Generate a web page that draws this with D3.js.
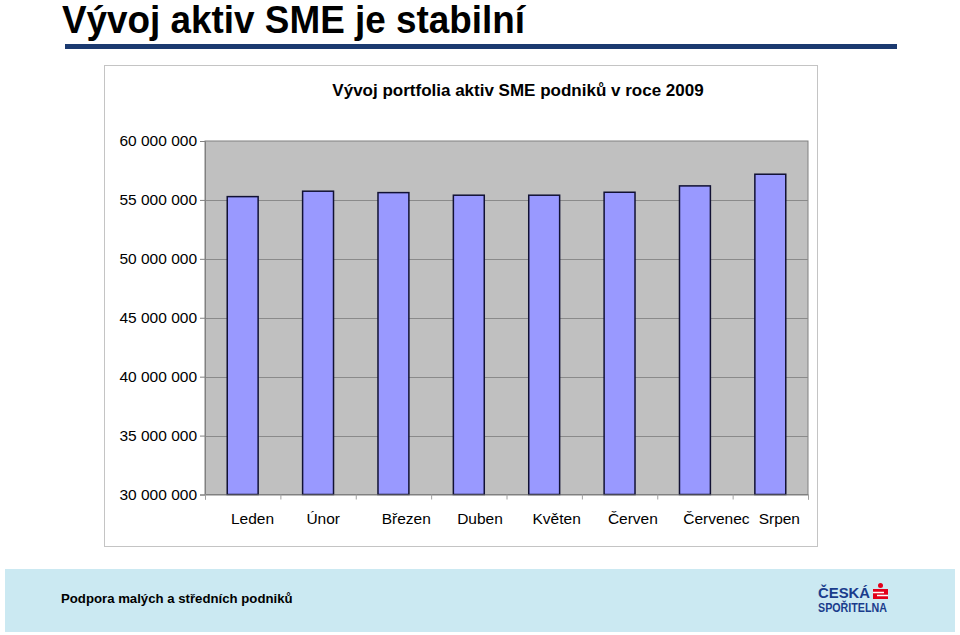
<!DOCTYPE html>
<html>
<head>
<meta charset="utf-8">
<script src="https://cdn.jsdelivr.net/npm/d3@7"></script>
<style>
    body { margin: 0; background: #ffffff; }
    svg { display: block; font-family: 'Liberation Sans', Arial, sans-serif; }
</style>
</head>
<body>
<svg></svg>
<script>
// Set variables

let months = ['Leden', 'Únor', 'Březen', 'Duben', 'Květen', 'Červen', 'Červenec', 'Srpen']
let assets = [55280000, 55740000, 55620000, 55400000, 55400000, 55650000, 56190000, 57180000]
let yTicks = [30000000, 35000000, 40000000, 45000000, 50000000, 55000000, 60000000]

let width = 960
let height = 635

let plot = { left: 205, right: 808, top: 141, bottom: 494.5 }

let xScale
let edgeScale
let yScale

let svg = d3.select('svg')

// Draw canvas

let drawCanvas = () => {
    svg.attr('width', width)
    svg.attr('height', height)

    svg.append('text')
        .attr('x', 62)
        .attr('y', 33)
        .attr('font-size', 38)
        .attr('font-weight', 'bold')
        .attr('textLength', 463)
        .attr('lengthAdjust', 'spacingAndGlyphs')
        .attr('fill', '#000')
        .text('Vývoj aktiv SME je stabilní')

    svg.append('rect')
        .attr('x', 65)
        .attr('y', 44)
        .attr('width', 832)
        .attr('height', 5)
        .attr('fill', '#1b3a70')

    // chart frame
    svg.append('rect')
        .attr('x', 104.5)
        .attr('y', 65.5)
        .attr('width', 713)
        .attr('height', 481)
        .attr('fill', '#fff')
        .attr('stroke', '#c4c4c4')

    svg.append('text')
        .attr('x', 518)
        .attr('y', 96)
        .attr('text-anchor', 'middle')
        .attr('font-size', 17)
        .attr('font-weight', 'bold')
        .text('Vývoj portfolia aktiv SME podniků v roce 2009')
}

// Generate scales

let generateScales = () => {
    xScale = d3.scaleBand()
                .domain(months)
                .range([plot.left, plot.right])
                .paddingInner(0.59)
                .paddingOuter(0.295)

    edgeScale = d3.scaleLinear()
                .domain([0, months.length])
                .range([plot.left, plot.right])

    yScale = d3.scaleLinear()
                .domain([30000000, 60000000])
                .range([plot.bottom, plot.top])
}

// Draw plot area and grid

let drawGrid = () => {
    svg.append('rect')
        .attr('x', plot.left)
        .attr('y', plot.top)
        .attr('width', plot.right - plot.left)
        .attr('height', plot.bottom - plot.top)
        .attr('fill', '#c0c0c0')
        .attr('stroke', '#808080')

    svg.selectAll('.grid')
        .data(yTicks.slice(1, -1))
        .enter()
        .append('line')
        .attr('class', 'grid')
        .attr('x1', plot.left)
        .attr('x2', plot.right)
        .attr('y1', (d) => Math.round(yScale(d)) + 0.5)
        .attr('y2', (d) => Math.round(yScale(d)) + 0.5)
        .attr('stroke', '#8a8a8a')
}

// Draw bars

let drawBars = () => {
    svg.selectAll('.bar')
        .data(assets)
        .enter()
        .append('rect')
        .attr('class', 'bar')
        .attr('x', (d, i) => xScale(months[i]))
        .attr('y', (d) => yScale(d))
        .attr('width', xScale.bandwidth())
        .attr('height', (d) => plot.bottom - yScale(d))
        .attr('fill', '#9999ff')
        .attr('stroke', '#111133')
        .attr('stroke-width', 1.5)
}

// Generate the axes

let generateAxes = () => {
    let fmt = (d) => d3.format(',')(d).replace(/,/g, ' ')

    let yAxis = d3.axisLeft(yScale)
                    .tickValues(yTicks)
                    .tickSize(5)
                    .tickPadding(3)
                    .tickFormat(fmt)

    let yg = svg.append('g')
        .call(yAxis)
        .attr('id', 'y-axis')
        .attr('transform', 'translate(' + plot.left + ', 0)')

    yg.select('.domain').attr('stroke', '#808080')
    yg.selectAll('.tick line').attr('stroke', '#808080')
    yg.selectAll('.tick text')
        .attr('font-size', 15.5)
        .attr('font-family', "'Liberation Sans', Arial, sans-serif")
        .attr('fill', '#000')

    // ticks between categories
    let edgeAxis = d3.axisBottom(edgeScale)
                    .tickValues(d3.range(months.length + 1))
                    .tickSize(5)
                    .tickFormat('')

    let eg = svg.append('g')
        .call(edgeAxis)
        .attr('transform', 'translate(0, ' + plot.bottom + ')')

    eg.select('.domain').attr('stroke', '#808080')
    eg.selectAll('.tick line').attr('stroke', '#a0a0a0')

    let xAxis = d3.axisBottom(xScale)
                    .tickSize(0)
                    .tickPadding(18)

    let xg = svg.append('g')
        .call(xAxis)
        .attr('id', 'x-axis')
        .attr('transform', 'translate(0, ' + plot.bottom + ')')

    xg.select('.domain').remove()
    // labels start a fixed distance after each category's left edge
    xg.selectAll('.tick text')
        .attr('text-anchor', 'start')
        .attr('x', -xScale.step() / 2 + 26)
        .attr('font-size', 15.5)
        .attr('font-family', "'Liberation Sans', Arial, sans-serif")
        .attr('fill', '#000')
}

// Draw footer

let drawFooter = () => {
    svg.append('rect')
        .attr('x', 5)
        .attr('y', 569)
        .attr('width', 950)
        .attr('height', 63)
        .attr('fill', '#cbe9f2')

    svg.append('text')
        .attr('x', 61)
        .attr('y', 603)
        .attr('font-size', 13.2)
        .attr('font-weight', 'bold')
        .text('Podpora malých a středních podniků')

    let logo = svg.append('g').attr('font-weight', 'bold').attr('fill', '#1a3c8c')

    logo.append('text')
        .attr('x', 818)
        .attr('y', 598)
        .attr('font-size', 15)
        .attr('textLength', 52)
        .attr('lengthAdjust', 'spacingAndGlyphs')
        .text('ČESKÁ')

    logo.append('text')
        .attr('x', 818)
        .attr('y', 612)
        .attr('font-size', 13)
        .attr('textLength', 69)
        .attr('lengthAdjust', 'spacingAndGlyphs')
        .text('SPOŘITELNA')

    svg.append('circle')
        .attr('cx', 880.5)
        .attr('cy', 585.5)
        .attr('r', 2.5)
        .attr('fill', '#e2001a')

    svg.append('rect')
        .attr('x', 873)
        .attr('y', 589)
        .attr('width', 15)
        .attr('height', 10)
        .attr('fill', '#e2001a')

    svg.append('path')
        .attr('d', 'M873,592.5 H884 M877,595.5 H888')
        .attr('stroke', '#ffffff')
        .attr('stroke-width', 1.3)
}

drawCanvas()
generateScales()
drawGrid()
drawBars()
generateAxes()
drawFooter()
</script>
</body>
</html>
